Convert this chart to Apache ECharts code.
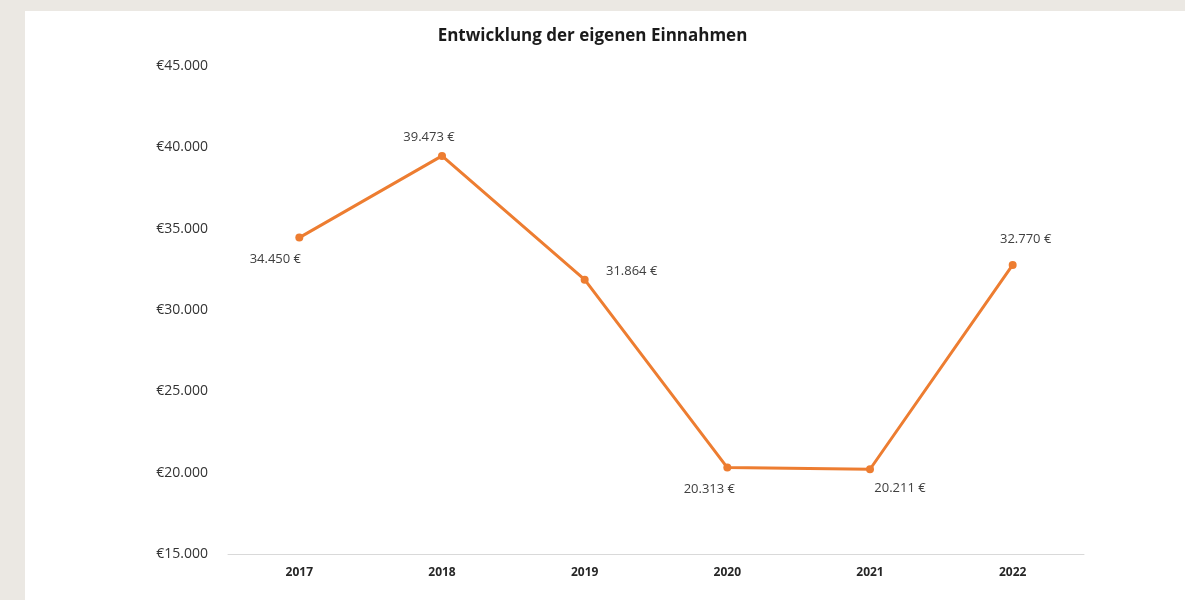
<!DOCTYPE html>
<html>
<head>
<meta charset="utf-8">
<script src="https://cdn.jsdelivr.net/npm/echarts@6/dist/echarts.min.js"></script>
<style>
html,body{margin:0;padding:0;background:#ebe8e3;}
#c{width:1185px;height:600px;}
</style>
</head>
<body>
<div id="c"></div>
<script>
const title = 'Entwicklung der eigenen Einnahmen';
const years = ['2017', '2018', '2019', '2020', '2021', '2022'];
const einnahmen = [34450, 39473, 31864, 20313, 20211, 32770];
const yMin = 15000, yMax = 45000, yStep = 5000;

function fmt(v) {
  const s = String(Math.round(v));
  return s.replace(/\B(?=(\d{3})+(?!\d))/g, '.');
}

// label placement (style only)
const labelOffsets = [[-24, 22], [-13, -19], [47, -8], [-18, 22], [30, 19], [13, -26]];

const chart = echarts.init(document.getElementById('c'), null, {renderer: 'canvas'});
chart.setOption({
  backgroundColor: '#ebe8e3',
  animation: false,
  graphic: [{
    type: 'rect', left: 25, top: 11, z: -10,
    shape: {width: 1160, height: 589},
    style: {fill: '#ffffff'}
  }],
  title: {
    text: title, left: 'center', top: 23,
    textStyle: {fontFamily: 'Open Sans', fontWeight: 'bold', fontSize: 17, color: '#1a1a1a'}
  },
  grid: {left: 228, right: 101, top: 66, bottom: 46, containLabel: false},
  xAxis: {
    type: 'category', data: years, boundaryGap: true,
    axisLine: {lineStyle: {color: '#d9d9d9', width: 1}},
    axisTick: {show: false},
    axisLabel: {margin: 13, fontFamily: 'Open Sans', fontWeight: 'bold', fontSize: 12, color: '#262626'}
  },
  yAxis: {
    type: 'value', min: yMin, max: yMax, interval: yStep,
    axisLine: {show: false}, axisTick: {show: false}, splitLine: {show: false},
    axisLabel: {margin: 20, fontFamily: 'Open Sans', fontSize: 14, color: '#333333',
      formatter: v => '€' + fmt(v)}
  },
  series: [{
    type: 'line',
    data: einnahmen.map((v, i) => ({
      value: v,
      label: {offset: labelOffsets[i]}
    })),
    lineStyle: {color: '#ed7d31', width: 3},
    itemStyle: {color: '#ed7d31'},
    symbol: 'circle', symbolSize: 8,
    label: {
      show: true, position: 'inside', align: 'center', verticalAlign: 'middle',
      fontFamily: 'Open Sans', fontSize: 13, color: '#404040',
      formatter: p => fmt(p.value) + ' €'
    }
  }]
});
</script>
</body>
</html>
